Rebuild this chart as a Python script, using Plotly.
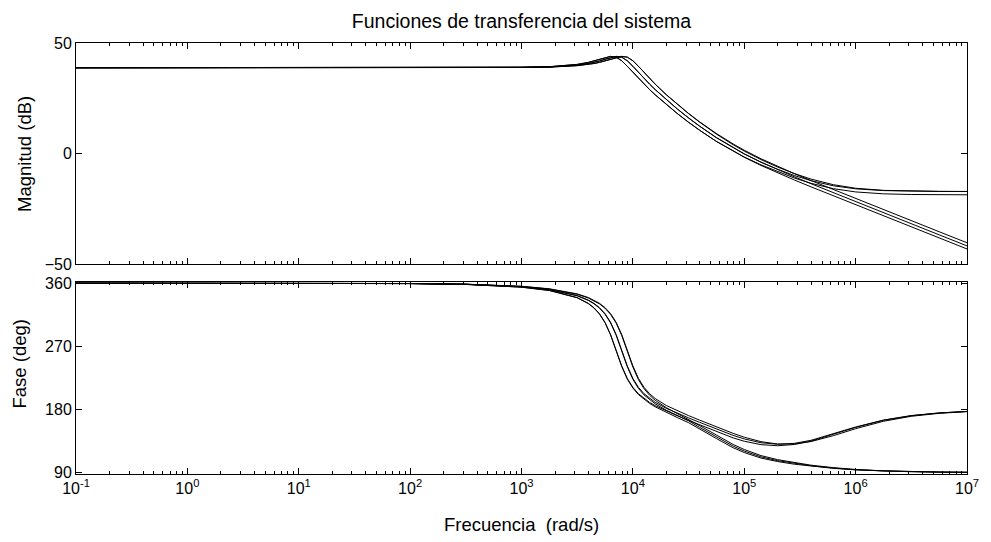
import plotly.graph_objects as go

# Frequency samples (rad/s) shared by every response curve
freq = [0.1, 10, 100, 316.2, 1000, 1778, 3162, 3981, 4467, 5012, 5623, 6310, 7079,
        7943, 8913, 10000, 11220, 12589, 14125, 15849, 19953, 25119, 31623, 39811,
        56234, 79433, 100000, 141254, 199526, 281838, 398107, 630957, 1000000,
        1778279, 3162278, 5623413, 10000000]

# Magnitude (dB) of each transfer function
mag_a1 = [38.80, 38.80, 38.80, 38.81, 38.89, 39.09, 39.74, 40.31, 40.72, 41.23, 41.87, 42.63,
          43.42, 43.94, 43.60, 41.98, 39.48, 36.72, 34.01, 31.41, 26.62, 22.23, 18.14, 14.31,
          9.03, 4.32, 1.49, -2.36, -5.85, -9.12, -12.26, -16.34, -20.38, -25.39, -30.40,
          -35.40, -40.40]
mag_a2 = [38.80, 38.80, 38.80, 38.81, 38.92, 39.17, 39.99, 40.72, 41.23, 41.87, 42.63, 43.42,
          43.94, 43.59, 41.97, 39.47, 36.71, 33.99, 31.40, 28.94, 24.35, 20.11, 16.12, 12.38,
          7.23, 2.64, -0.12, -3.89, -7.32, -10.55, -13.68, -17.75, -21.78, -26.79, -31.80,
          -36.80, -41.80]
mag_a3 = [38.80, 38.80, 38.80, 38.81, 38.95, 39.27, 40.31, 41.23, 41.87, 42.62, 43.41, 43.94,
          43.59, 41.96, 39.46, 36.70, 33.98, 31.38, 28.92, 26.57, 22.15, 18.03, 14.14, 10.49,
          5.45, 0.98, -1.71, -5.39, -8.79, -11.99, -15.09, -19.16, -23.18, -28.19, -33.20,
          -38.20, -43.20]
mag_b1 = [38.80, 38.80, 38.80, 38.81, 38.92, 39.17, 39.99, 40.72, 41.23, 41.87, 42.63, 43.42,
          43.94, 43.59, 41.97, 39.46, 36.70, 33.98, 31.39, 28.92, 24.32, 20.06, 16.07, 12.31,
          7.11, 2.50, -0.26, -3.94, -7.15, -9.97, -12.30, -14.61, -15.99, -16.78, -17.07,
          -17.16, -17.19]
mag_b2 = [38.80, 38.80, 38.80, 38.81, 38.95, 39.27, 40.31, 41.23, 41.87, 42.62, 43.41, 43.94,
          43.59, 41.96, 39.46, 36.70, 33.98, 31.38, 28.92, 26.57, 22.15, 18.04, 14.15, 10.51,
          5.49, 1.07, -1.58, -5.12, -8.27, -11.10, -13.50, -15.92, -17.39, -18.25, -18.55,
          -18.65, -18.69]
mag_b3 = [38.80, 38.80, 38.80, 38.81, 38.89, 39.09, 39.74, 40.31, 40.72, 41.23, 41.87, 42.62,
          43.41, 43.94, 43.59, 41.96, 39.46, 36.70, 33.98, 31.38, 26.57, 22.15, 18.04, 14.15,
          8.78, 3.97, 1.09, -2.76, -6.14, -9.08, -11.58, -14.12, -15.72, -16.68, -17.02,
          -17.15, -17.18]

# Phase (deg) of each transfer function
phase_a1 = [360.00, 359.96, 359.55, 358.57, 355.44, 351.72, 344.25, 338.91, 335.26, 330.54,
            324.26, 315.56, 303.11, 285.44, 262.99, 240.45, 222.49, 209.60, 200.27, 193.16,
            182.54, 174.13, 166.49, 156.99, 143.57, 130.14, 122.91, 114.25, 108.44, 103.97,
            100.55, 97.02, 94.44, 92.50, 91.41, 90.80, 90.46]
phase_a2 = [360.00, 359.95, 359.50, 358.41, 354.91, 350.71, 341.98, 335.42, 330.72, 324.46,
            315.79, 303.36, 285.72, 263.30, 240.80, 222.89, 210.04, 200.75, 193.70, 188.02,
            178.90, 171.14, 163.78, 154.38, 141.03, 127.75, 120.71, 112.45, 107.04, 102.93,
            99.80, 96.54, 94.13, 92.33, 91.30, 90.74, 90.42]
phase_a3 = [360.00, 359.95, 359.44, 358.22, 354.31, 349.55, 339.19, 330.89, 324.65, 316.00,
            303.60, 285.99, 263.60, 241.13, 223.26, 210.45, 201.22, 194.22, 188.59, 183.84,
            175.70, 168.37, 161.16, 151.83, 138.53, 125.44, 118.61, 110.74, 105.73, 101.95,
            99.10, 96.08, 93.84, 92.16, 91.21, 90.68, 90.38]
phase_b1 = [360.00, 359.95, 359.51, 358.46, 355.05, 350.96, 342.42, 335.97, 331.34, 325.16,
            316.57, 304.24, 286.71, 264.41, 242.04, 224.28, 211.59, 202.50, 195.66, 190.20,
            181.63, 174.54, 167.98, 161.57, 152.03, 143.10, 138.03, 132.59, 130.40, 131.66,
            136.04, 145.11, 154.95, 164.88, 171.28, 175.06, 177.21]
phase_b2 = [360.00, 359.95, 359.45, 358.25, 354.41, 349.73, 339.51, 331.29, 325.10, 316.51,
            304.17, 286.63, 264.32, 241.94, 224.17, 211.47, 202.36, 195.50, 190.03, 185.45,
            177.73, 170.93, 164.38, 157.88, 148.24, 139.48, 134.69, 129.84, 128.27, 130.07,
            134.90, 144.37, 154.48, 164.61, 171.13, 174.97, 177.16]
phase_b3 = [360.00, 359.96, 359.57, 358.62, 355.60, 352.01, 344.76, 339.55, 335.97, 331.34,
            325.16, 316.57, 304.24, 286.71, 264.41, 242.04, 224.28, 211.59, 202.50, 195.66,
            185.65, 177.98, 171.24, 164.77, 155.18, 145.95, 140.45, 134.08, 130.74, 130.87,
            134.27, 142.65, 152.59, 163.19, 170.26, 174.47, 176.89]

mag_curves = [mag_a1, mag_a2, mag_a3, mag_b1, mag_b2, mag_b3]
phase_curves = [phase_a1, phase_a2, phase_a3, phase_b1, phase_b2, phase_b3]

# Axis ticks and labels
decades = [0.1, 1, 10, 100, 1000, 10000, 100000, 1000000, 10000000]
decade_labels = ["10<sup>-1</sup>", "10<sup>0</sup>", "10<sup>1</sup>", "10<sup>2</sup>",
                 "10<sup>3</sup>", "10<sup>4</sup>", "10<sup>5</sup>", "10<sup>6</sup>",
                 "10<sup>7</sup>"]
mag_ticks = [-50, 0, 50]
phase_ticks = [90, 180, 270, 360]

title_text = "Funciones de transferencia del sistema"
mag_label = "Magnitud (dB)"
phase_label = "Fase (deg)"
freq_label = "Frecuencia\u00a0\u00a0(rad/s)"

FONT = "Liberation Sans, Arial, Helvetica, sans-serif"

minor_ticks = [m * d for d in decades[:-1] for m in range(2, 10)]

# Page geometry (px)
W, H = 991, 542
ML, MR, MT, MB = 76, 16, 43, 68
PW = W - ML - MR
PH = H - MT - MB


def px_x(x):
    return (x - ML) / PW


def px_y(y):
    return (H - MB - y) / PH


fig = go.Figure()
for m in mag_curves:
    fig.add_trace(go.Scatter(x=freq, y=m, mode="lines", xaxis="x", yaxis="y",
                             line=dict(color="black", width=1),
                             showlegend=False, hoverinfo="skip"))
for p in phase_curves:
    fig.add_trace(go.Scatter(x=freq, y=p, mode="lines", xaxis="x2", yaxis="y2",
                             line=dict(color="black", width=1),
                             showlegend=False, hoverinfo="skip"))

box = dict(showline=True, linecolor="black", linewidth=1, mirror="allticks",
           ticks="inside", ticklen=6, tickcolor="black", tickwidth=1,
           showgrid=False, zeroline=False,
           tickfont=dict(family=FONT, size=16, color="black"))
log_x = dict(type="log", range=[-1, 7], tickmode="array", tickvals=decades,
             minor=dict(ticks="inside", ticklen=3, tickcolor="black",
                        tickmode="array", tickvals=minor_ticks, showgrid=False))

fig.update_layout(
    width=W, height=H,
    margin=dict(l=ML, r=MR, t=MT, b=MB),
    paper_bgcolor="white", plot_bgcolor="white",
    xaxis=dict(**box, **log_x, anchor="y", showticklabels=False),
    yaxis=dict(**box, domain=[px_y(264), 1.0], range=[-50, 50], tickmode="array",
               tickvals=mag_ticks),
    xaxis2=dict(**box, **log_x, anchor="y2", ticktext=decade_labels),
    yaxis2=dict(**box, domain=[0.0, px_y(282)], range=[88, 361.7], tickmode="array",
                tickvals=phase_ticks),
    title=dict(text=title_text, x=0.5, xref="paper", xanchor="center",
               y=1 - 21 / H, yref="container", yanchor="middle",
               font=dict(family=FONT, size=19.5, color="black")),
    annotations=[
        dict(text=mag_label, xref="paper", yref="paper", x=px_x(24),
             y=px_y(153.5), textangle=-90, showarrow=False,
             xanchor="center", yanchor="middle",
             font=dict(family=FONT, size=18.5, color="black")),
        dict(text=phase_label, xref="paper", yref="paper", x=px_x(20),
             y=px_y(364), textangle=-90, showarrow=False,
             xanchor="center", yanchor="middle",
             font=dict(family=FONT, size=18.5, color="black")),
        dict(text=freq_label, xref="paper", yref="paper", x=0.5,
             y=px_y(524), showarrow=False,
             xanchor="center", yanchor="middle",
             font=dict(family=FONT, size=18.5, color="black")),
    ],
)

fig.write_html("out.html")
